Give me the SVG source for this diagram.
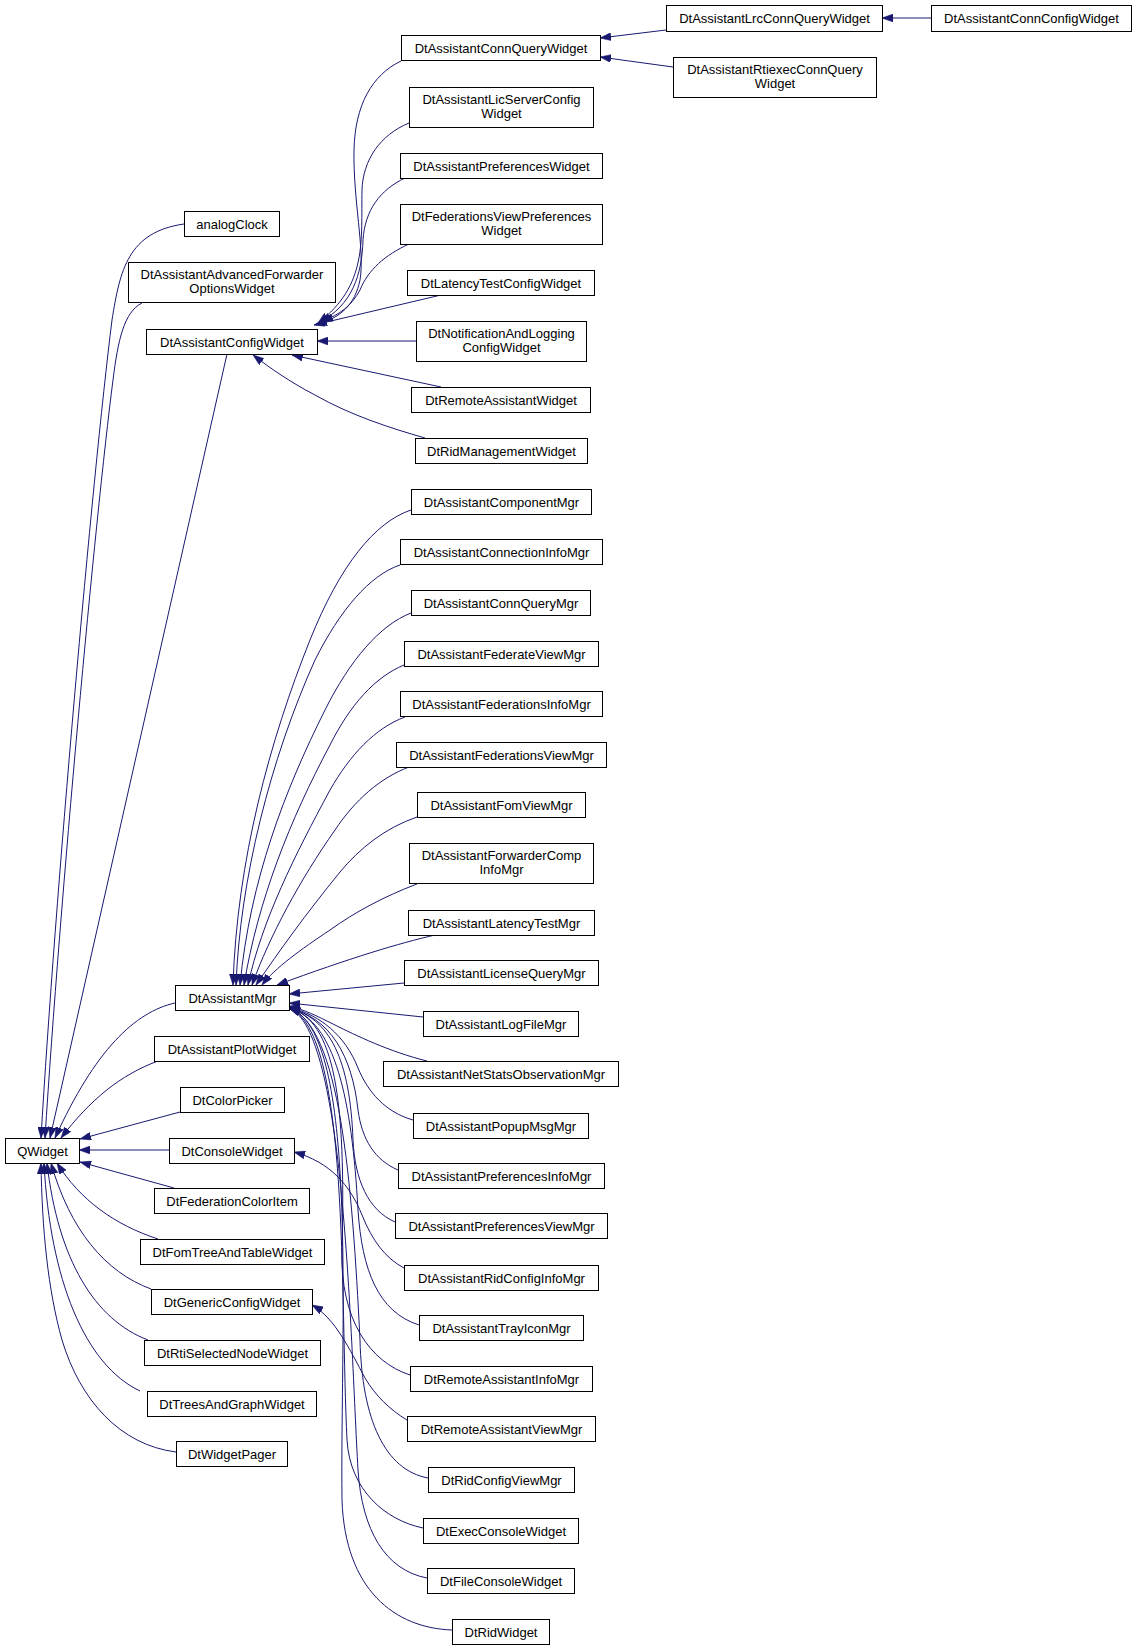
<svg xmlns="http://www.w3.org/2000/svg" width="1139" height="1651" viewBox="0 0 1139 1651">
<style>
.n rect{fill:#fff;stroke:#000;stroke-width:1}
.n text{font-family:"Liberation Sans",Arial,sans-serif;font-size:13px;text-anchor:middle;fill:#000}
#edges path{fill:none;stroke:#191970;stroke-width:1;marker-end:url(#ah)}
</style>
<defs>
<marker id="ah" viewBox="0 0 11 8" refX="11" refY="4" markerWidth="11" markerHeight="8" markerUnits="userSpaceOnUse" orient="auto">
<path d="M0,0 L11,4 L0,8 z" fill="#191970" stroke="#191970" stroke-width="0.5"/>
</marker>
</defs>
<rect width="1139" height="1651" fill="#fff"/>
<g id="edges">
<path d="M931,18 L882,18"/>
<path d="M666,30 L600,38"/>
<path d="M673,67 L600,57"/>
<path d="M401,61 C372,75 355,105 354,150 C353,200 365,250 360,280 C355,305 340,318 316,325"/>
<path d="M409,123 C380,135 363,160 362,190 C361,240 368,285 318,323"/>
<path d="M405,178 C380,190 365,210 363,240 C362,275 352,305 320,322"/>
<path d="M409,244 C385,255 368,270 360,290 C352,305 340,315 322,321"/>
<path d="M441,295 L314,325"/>
<path d="M416,341 L317,341"/>
<path d="M441,387 L292,355"/>
<path d="M425,438 C390,428 350,415 315,395 C290,382 270,368 253,355"/>
<path d="M184,224 C128,232 120,270 112,320 C92,480 55,900 41,1138"/>
<path d="M142,303 C124,312 118,340 113,380 C95,520 60,900 45,1138"/>
<path d="M227,354 L50,1138"/>
<path d="M175,1003 C135,1012 95,1050 55,1138"/>
<path d="M158,1061 C120,1075 90,1100 61,1138"/>
<path d="M180,1112 L80,1139"/>
<path d="M169,1150 L79,1150"/>
<path d="M174,1188 L80,1162"/>
<path d="M158,1239 C115,1225 80,1200 57,1163"/>
<path d="M151,1289 C105,1272 70,1230 51,1163"/>
<path d="M148,1340 C95,1320 58,1260 47,1163"/>
<path d="M140,1391 C85,1365 50,1280 44,1163"/>
<path d="M176,1452 C120,1445 80,1400 62,1340 C48,1290 42,1230 41,1163"/>
<path d="M411,510 C375,522 340,565 310,640 C270,740 237,860 233,985"/>
<path d="M400,565 C370,575 340,610 315,660 C270,760 240,880 236,985"/>
<path d="M411,613 C380,625 350,660 325,710 C285,790 250,880 240,985"/>
<path d="M404,665 C375,677 350,705 330,745 C290,820 258,900 244,985"/>
<path d="M405,717 C375,728 350,755 330,790 C295,855 262,920 248,985"/>
<path d="M409,767 C380,778 355,800 335,830 C300,880 270,935 252,985"/>
<path d="M417,817 C385,828 360,848 340,872 C305,915 280,950 256,985"/>
<path d="M417,884 C385,896 355,912 330,930 C300,950 275,968 262,985"/>
<path d="M435,935 C400,943 350,958 277,985"/>
<path d="M404,983 L289,994"/>
<path d="M423,1017 L289,1003"/>
<path d="M427,1061 C390,1052 355,1035 335,1025 C315,1015 305,1010 289,1006"/>
<path d="M413,1120 C385,1112 368,1092 358,1068 C345,1035 320,1015 289,1007"/>
<path d="M398,1170 C375,1160 362,1140 358,1110 C352,1055 330,1018 289,1008"/>
<path d="M395,1222 C368,1210 355,1180 353,1140 C350,1060 330,1018 289,1008"/>
<path d="M404,1268 C385,1258 372,1240 362,1215 C350,1185 330,1162 294,1152"/>
<path d="M419,1325 C378,1312 362,1270 358,1210 C352,1100 335,1020 289,1008"/>
<path d="M410,1375 C370,1362 340,1320 342,1250 C346,1100 335,1020 289,1008"/>
<path d="M407,1420 C390,1410 375,1395 365,1378 C350,1350 335,1318 312,1305"/>
<path d="M428,1478 C385,1470 362,1420 360,1340 C352,1180 340,1025 289,1008"/>
<path d="M423,1528 C385,1520 350,1490 347,1440 C340,1300 350,1030 289,1008"/>
<path d="M427,1578 C385,1570 362,1530 358,1470 C350,1330 345,1030 289,1008"/>
<path d="M452,1630 C395,1628 345,1590 342,1500 C340,1330 360,1030 289,1008"/>
</g>
<g id="QWidget" class="n"><rect x="5.5" y="1138.5" width="74" height="25"/><text x="42.5" y="1155.5">QWidget</text></g>
<g id="analogClock" class="n"><rect x="184.5" y="211.5" width="95" height="25"/><text x="232" y="228.5">analogClock</text></g>
<g id="DtAssistantAdvancedForwarderOptionsWidget" class="n"><rect x="128.5" y="262.5" width="207" height="40"/><text x="232" y="278.5">DtAssistantAdvancedForwarder</text><text x="232" y="292.5">OptionsWidget</text></g>
<g id="DtAssistantConfigWidget" class="n"><rect x="146.5" y="329.5" width="171" height="25"/><text x="232" y="346.5">DtAssistantConfigWidget</text></g>
<g id="DtAssistantMgr" class="n"><rect x="175.5" y="985.5" width="114" height="25"/><text x="232.5" y="1002.5">DtAssistantMgr</text></g>
<g id="DtAssistantPlotWidget" class="n"><rect x="154.5" y="1036.5" width="155" height="25"/><text x="232" y="1053.5">DtAssistantPlotWidget</text></g>
<g id="DtColorPicker" class="n"><rect x="180.5" y="1087.5" width="104" height="25"/><text x="232.5" y="1104.5">DtColorPicker</text></g>
<g id="DtConsoleWidget" class="n"><rect x="169.5" y="1138.5" width="125" height="25"/><text x="232" y="1155.5">DtConsoleWidget</text></g>
<g id="DtFederationColorItem" class="n"><rect x="154.5" y="1188.5" width="155" height="25"/><text x="232" y="1205.5">DtFederationColorItem</text></g>
<g id="DtFomTreeAndTableWidget" class="n"><rect x="140.5" y="1239.5" width="184" height="25"/><text x="232.5" y="1256.5">DtFomTreeAndTableWidget</text></g>
<g id="DtGenericConfigWidget" class="n"><rect x="151.5" y="1289.5" width="161" height="25"/><text x="232" y="1306.5">DtGenericConfigWidget</text></g>
<g id="DtRtiSelectedNodeWidget" class="n"><rect x="144.5" y="1340.5" width="176" height="25"/><text x="232.5" y="1357.5">DtRtiSelectedNodeWidget</text></g>
<g id="DtTreesAndGraphWidget" class="n"><rect x="147.5" y="1391.5" width="169" height="25"/><text x="232" y="1408.5">DtTreesAndGraphWidget</text></g>
<g id="DtWidgetPager" class="n"><rect x="176.5" y="1441.5" width="111" height="25"/><text x="232" y="1458.5">DtWidgetPager</text></g>
<g id="DtAssistantConnQueryWidget" class="n"><rect x="401.5" y="35.5" width="199" height="25"/><text x="501" y="52.5">DtAssistantConnQueryWidget</text></g>
<g id="DtAssistantLicServerConfigWidget" class="n"><rect x="409.5" y="87.5" width="184" height="40"/><text x="501.5" y="103.5">DtAssistantLicServerConfig</text><text x="501.5" y="117.5">Widget</text></g>
<g id="DtAssistantPreferencesWidget" class="n"><rect x="400.5" y="153.5" width="202" height="25"/><text x="501.5" y="170.5">DtAssistantPreferencesWidget</text></g>
<g id="DtFederationsViewPreferencesWidget" class="n"><rect x="400.5" y="204.5" width="202" height="40"/><text x="501.5" y="220.5">DtFederationsViewPreferences</text><text x="501.5" y="234.5">Widget</text></g>
<g id="DtLatencyTestConfigWidget" class="n"><rect x="407.5" y="270.5" width="187" height="25"/><text x="501" y="287.5">DtLatencyTestConfigWidget</text></g>
<g id="DtNotificationAndLoggingConfigWidget" class="n"><rect x="416.5" y="321.5" width="170" height="40"/><text x="501.5" y="337.5">DtNotificationAndLogging</text><text x="501.5" y="351.5">ConfigWidget</text></g>
<g id="DtRemoteAssistantWidget" class="n"><rect x="411.5" y="387.5" width="179" height="25"/><text x="501" y="404.5">DtRemoteAssistantWidget</text></g>
<g id="DtRidManagementWidget" class="n"><rect x="415.5" y="438.5" width="172" height="25"/><text x="501.5" y="455.5">DtRidManagementWidget</text></g>
<g id="DtAssistantComponentMgr" class="n"><rect x="411.5" y="489.5" width="180" height="25"/><text x="501.5" y="506.5">DtAssistantComponentMgr</text></g>
<g id="DtAssistantConnectionInfoMgr" class="n"><rect x="400.5" y="539.5" width="202" height="25"/><text x="501.5" y="556.5">DtAssistantConnectionInfoMgr</text></g>
<g id="DtAssistantConnQueryMgr" class="n"><rect x="411.5" y="590.5" width="179" height="25"/><text x="501" y="607.5">DtAssistantConnQueryMgr</text></g>
<g id="DtAssistantFederateViewMgr" class="n"><rect x="404.5" y="641.5" width="194" height="25"/><text x="501.5" y="658.5">DtAssistantFederateViewMgr</text></g>
<g id="DtAssistantFederationsInfoMgr" class="n"><rect x="400.5" y="691.5" width="202" height="25"/><text x="501.5" y="708.5">DtAssistantFederationsInfoMgr</text></g>
<g id="DtAssistantFederationsViewMgr" class="n"><rect x="396.5" y="742.5" width="210" height="25"/><text x="501.5" y="759.5">DtAssistantFederationsViewMgr</text></g>
<g id="DtAssistantFomViewMgr" class="n"><rect x="417.5" y="792.5" width="168" height="25"/><text x="501.5" y="809.5">DtAssistantFomViewMgr</text></g>
<g id="DtAssistantForwarderCompInfoMgr" class="n"><rect x="409.5" y="843.5" width="184" height="40"/><text x="501.5" y="859.5">DtAssistantForwarderComp</text><text x="501.5" y="873.5">InfoMgr</text></g>
<g id="DtAssistantLatencyTestMgr" class="n"><rect x="408.5" y="910.5" width="186" height="25"/><text x="501.5" y="927.5">DtAssistantLatencyTestMgr</text></g>
<g id="DtAssistantLicenseQueryMgr" class="n"><rect x="404.5" y="960.5" width="194" height="25"/><text x="501.5" y="977.5">DtAssistantLicenseQueryMgr</text></g>
<g id="DtAssistantLogFileMgr" class="n"><rect x="423.5" y="1011.5" width="155" height="25"/><text x="501" y="1028.5">DtAssistantLogFileMgr</text></g>
<g id="DtAssistantNetStatsObservationMgr" class="n"><rect x="383.5" y="1061.5" width="235" height="25"/><text x="501" y="1078.5">DtAssistantNetStatsObservationMgr</text></g>
<g id="DtAssistantPopupMsgMgr" class="n"><rect x="413.5" y="1113.5" width="175" height="25"/><text x="501" y="1130.5">DtAssistantPopupMsgMgr</text></g>
<g id="DtAssistantPreferencesInfoMgr" class="n"><rect x="398.5" y="1163.5" width="206" height="25"/><text x="501.5" y="1180.5">DtAssistantPreferencesInfoMgr</text></g>
<g id="DtAssistantPreferencesViewMgr" class="n"><rect x="395.5" y="1213.5" width="212" height="25"/><text x="501.5" y="1230.5">DtAssistantPreferencesViewMgr</text></g>
<g id="DtAssistantRidConfigInfoMgr" class="n"><rect x="404.5" y="1265.5" width="194" height="25"/><text x="501.5" y="1282.5">DtAssistantRidConfigInfoMgr</text></g>
<g id="DtAssistantTrayIconMgr" class="n"><rect x="419.5" y="1315.5" width="164" height="25"/><text x="501.5" y="1332.5">DtAssistantTrayIconMgr</text></g>
<g id="DtRemoteAssistantInfoMgr" class="n"><rect x="410.5" y="1366.5" width="182" height="25"/><text x="501.5" y="1383.5">DtRemoteAssistantInfoMgr</text></g>
<g id="DtRemoteAssistantViewMgr" class="n"><rect x="407.5" y="1416.5" width="188" height="25"/><text x="501.5" y="1433.5">DtRemoteAssistantViewMgr</text></g>
<g id="DtRidConfigViewMgr" class="n"><rect x="428.5" y="1467.5" width="146" height="25"/><text x="501.5" y="1484.5">DtRidConfigViewMgr</text></g>
<g id="DtExecConsoleWidget" class="n"><rect x="423.5" y="1518.5" width="155" height="25"/><text x="501" y="1535.5">DtExecConsoleWidget</text></g>
<g id="DtFileConsoleWidget" class="n"><rect x="427.5" y="1568.5" width="147" height="25"/><text x="501" y="1585.5">DtFileConsoleWidget</text></g>
<g id="DtRidWidget" class="n"><rect x="452.5" y="1619.5" width="97" height="25"/><text x="501" y="1636.5">DtRidWidget</text></g>
<g id="DtAssistantLrcConnQueryWidget" class="n"><rect x="666.5" y="5.5" width="216" height="26"/><text x="774.5" y="23">DtAssistantLrcConnQueryWidget</text></g>
<g id="DtAssistantRtiexecConnQueryWidget" class="n"><rect x="673.5" y="57.5" width="203" height="40"/><text x="775" y="73.5">DtAssistantRtiexecConnQuery</text><text x="775" y="87.5">Widget</text></g>
<g id="DtAssistantConnConfigWidget" class="n"><rect x="931.5" y="5.5" width="200" height="26"/><text x="1031.5" y="23">DtAssistantConnConfigWidget</text></g>
</svg>
